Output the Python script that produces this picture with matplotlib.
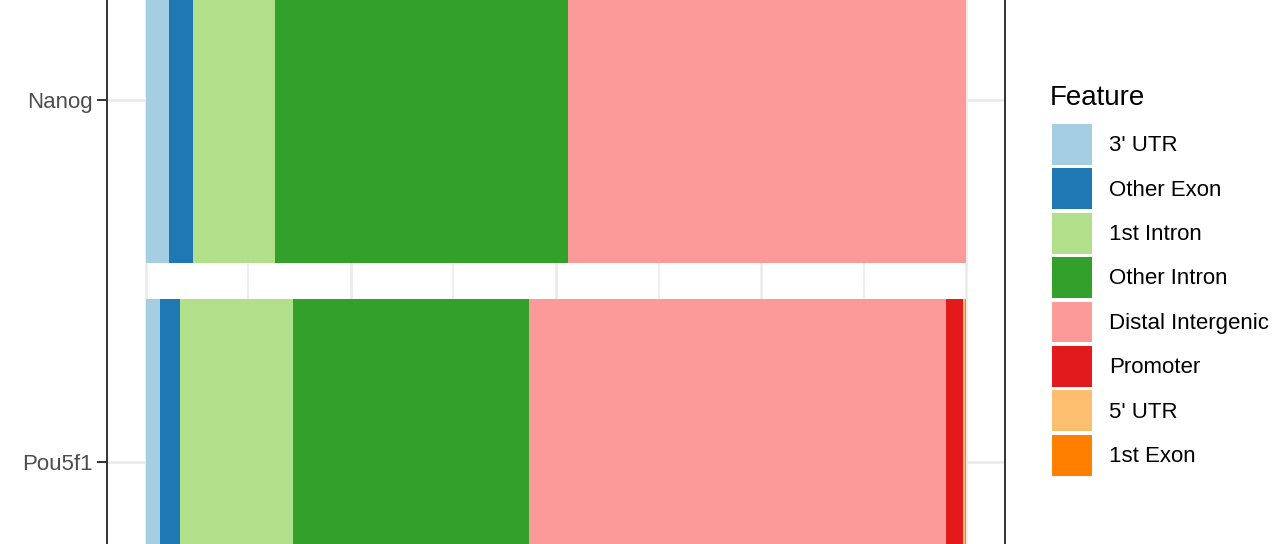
import matplotlib
matplotlib.use('Agg')
import matplotlib.pyplot as plt
from matplotlib.patches import Patch
import numpy as np

plt.rcParams['font.family'] = ['Liberation Sans', 'DejaVu Sans']

# categories (Pou5f1 at bottom, Nanog above)
genes = ['Pou5f1', 'Nanog']
features = ["3' UTR", 'Other Exon', '1st Intron', 'Other Intron',
            'Distal Intergenic', 'Promoter', "5' UTR", '1st Exon']
colors = ['#A6CEE3', '#1F78B4', '#B2DF8A', '#33A02C',
          '#FB9A99', '#E31A1C', '#FDBF6F', '#FF7F00']

# percentage of peaks per feature
pou5f1_pct = [1.71, 2.44, 13.78, 28.78, 50.85, 2.07, 0.27, 0.10]
nanog_pct = [2.80, 2.93, 10.00, 35.73, 48.54, 0.0, 0.0, 0.0]

data = np.array([pou5f1_pct, nanog_pct])

fig = plt.figure(figsize=(12.8, 5.44), dpi=100)
ax = fig.add_axes([107 / 1280, 0, (1005 - 107) / 1280, 1])

ypos = np.arange(len(genes)) + 1
left = np.zeros(len(genes))
for i, feat in enumerate(features):
    ax.barh(ypos, data[:, i], left=left, height=0.9, color=colors[i],
            linewidth=0, zorder=3)
    left += data[:, i]

ax.set_xlim(-4.756, 104.756)
ax.set_ylim(0.7735, 2.2762)
ax.set_yticks(ypos)
ax.set_yticklabels(genes)
ax.set_xticks([0, 25, 50, 75, 100])
ax.set_xticks([12.5, 37.5, 62.5, 87.5], minor=True)
ax.tick_params(axis='x', which='both', length=0, labelbottom=False)
ax.tick_params(axis='y', length=7, width=1.4, color='#333333',
               labelsize=16, labelcolor='#4d4d4d', pad=3)

ax.grid(True, which='major', color='#ebebeb', linewidth=2.0, zorder=0)
ax.grid(True, which='minor', axis='x', color='#ebebeb', linewidth=1.2, zorder=0)
ax.set_axisbelow(True)

for side in ['top', 'bottom']:
    ax.spines[side].set_visible(False)
for side in ['left', 'right']:
    ax.spines[side].set_color('#333333')
    ax.spines[side].set_linewidth(1.4)

# legend
fig.text(1050 / 1280, 1 - 105 / 544, 'Feature', fontsize=20, va='baseline',
         ha='left', color='black')
handles = [Patch(facecolor=c, edgecolor='none', linewidth=0) for c in colors]
fig.legend(handles, features, loc='upper left',
           bbox_to_anchor=(1052 / 1280, 1 - 124 / 544),
           frameon=False, fontsize=16,
           handlelength=1.8, handleheight=2.45, labelspacing=0.16,
           handletextpad=0.75, borderpad=0, borderaxespad=0)

fig.savefig('out.png', dpi=100)
